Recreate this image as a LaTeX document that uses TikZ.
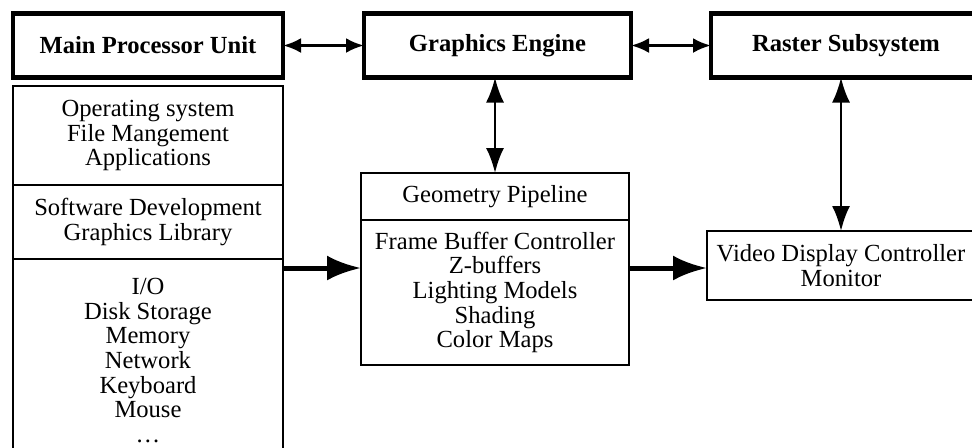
\documentclass[tikz,border=0pt]{standalone}
\usepackage{fontspec}
\setmainfont{Liberation Serif}
\usetikzlibrary{positioning,arrows.meta}
\newcommand{\tightleading}{\lineskiplimit=-20pt\relax}
\begin{document}
\begin{tikzpicture}[x=0.5pt, y=-0.5pt]
    \tikzstyle{heavybox} = [draw, rectangle, line width=2.2pt, outer sep=0pt, minimum width=135pt, minimum height=32pt, font=\fontsize{12.3}{12.35}\selectfont\bfseries]
    \tikzstyle{thinbox} = [draw, rectangle, line width=1.2pt, outer sep=0pt, minimum width=135pt, align=center, font=\fontsize{12.3}{12.35}\selectfont\tightleading]
    \tikzstyle{link} = [line width=1.5pt, {Latex[length=9pt,width=7.5pt]}-{Latex[length=9pt,width=7.5pt]}]
    \tikzstyle{feed} = [line width=1.2pt, {Latex[length=12.5pt,width=9pt]}-{Latex[length=12.5pt,width=9pt]}]
    \tikzstyle{flow} = [line width=2.5pt, -{Latex[length=17pt,width=12.5pt]}]

    \useasboundingbox (0,0) rectangle (972,447);
    \clip (0,0) rectangle (972,447);

    \node[heavybox] (mpu) at (148,45.5) {Main Processor Unit};
    \node[heavybox, minimum width=133.5pt] (engine) at (497.5,45.5) {Graphics Engine};
    \node[heavybox] (raster) at (846,45.5) {Raster Subsystem};

    % processor column, runs off the bottom
    \node[thinbox, minimum height=49.5pt] (os) at (148,135.5) {Operating system\\File Mangement\\Applications};
    \node[thinbox, minimum height=37pt, below=0pt of os] (sdk) {Software Development\\Graphics Library};
    \node[thinbox, minimum height=110pt, below=0pt of sdk] (io) {};
    \node[below=6pt of io.north, align=center, font=\fontsize{12.3}{12.35}\selectfont\tightleading] (iolist) {I/O\\Disk Storage\\Memory\\Network\\Keyboard\\Mouse\\\ldots};

    \node[thinbox, minimum width=134pt, minimum height=23.5pt] (geometry) at (495,196.5) {Geometry Pipeline};
    \node[thinbox, minimum width=134pt, minimum height=72.5pt, below=0pt of geometry] (fbc) {Frame Buffer Controller\\Z-buffers\\Lighting Models\\Shading\\Color Maps};
    \node[thinbox, minimum width=134pt, minimum height=34.5pt] (video) at (841,265.5) {Video Display Controller\\Monitor};

    \draw[link] (mpu) -- (engine);
    \draw[link] (engine) -- (raster);
    \draw[feed] (engine.south -| geometry.north) -- (geometry.north);
    \draw[feed] (raster.south -| video.north) -- (video.north);
    \draw[flow] ([yshift=-1.25pt]video.west -| io.east) -- ([yshift=-1.25pt]video.west -| fbc.west);
    \draw[flow] ([yshift=-1.25pt]video.west -| fbc.east) -- ([yshift=-1.25pt]video.west);
\end{tikzpicture}
\end{document}
